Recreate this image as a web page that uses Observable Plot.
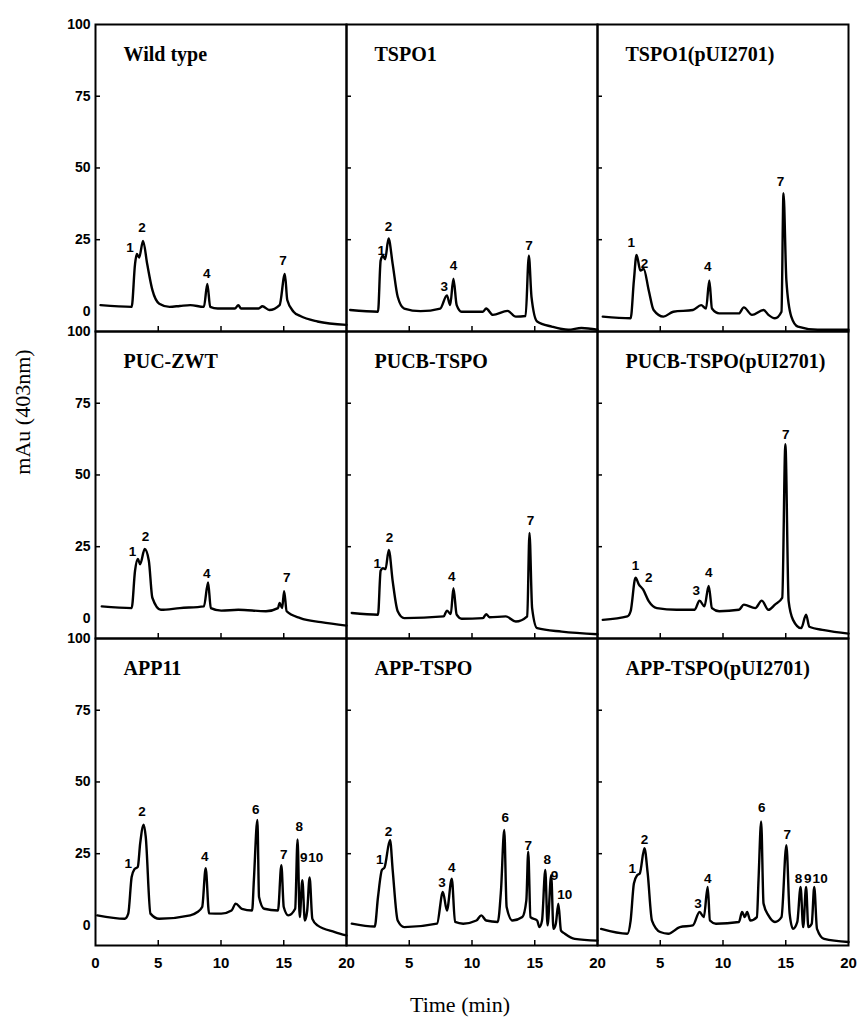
<!DOCTYPE html>
<html>
<head>
<meta charset="utf-8">
<script src="https://cdn.jsdelivr.net/npm/d3@7"></script>
<script src="https://cdn.jsdelivr.net/npm/@observablehq/plot@0.6"></script>
<style>
  html, body { margin: 0; padding: 0; background: #fff; }
</style>
</head>
<body>
<div id="chart"></div>
<script>
// ---- panel titles (row by row, left to right) ----
const panelNames = ["Wild type", "TSPO1", "TSPO1(pUI2701)",
                    "PUC-ZWT", "PUCB-TSPO", "PUCB-TSPO(pUI2701)",
                    "APP11", "APP-TSPO", "APP-TSPO(pUI2701)"];

// ---- chromatogram traces: [time (min), mAu] ----
const wildType = [[0.4,2.2],[2.88,1.6],[3.15,16.5],[3.29,20.0],[3.48,18.8],[3.79,24.6],[4.12,16.5],[4.53,7.5],[5.08,2.7],[5.9,1.6],[6.72,1.9],[7.55,2.2],[8.64,1.6],[8.91,9.6],[9.14,1.6],[9.74,1.0],[11.1,1.0],[11.38,2.2],[11.6,1.0],[13.0,1.0],[13.3,1.8],[13.85,0.5],[14.67,2.2],[15.09,13.1],[15.28,4.0],[15.78,-0.1],[16.32,-1.6],[17.69,-3.5],[20,-4.7]];
const tspo1 = [[0.29,0.5],[2.51,-0.1],[2.72,17.7],[2.9,19.4],[3.08,18.2],[3.35,25.4],[3.68,16.5],[4.08,5.1],[4.6,1.0],[5.9,0.1],[7.47,1.0],[8.0,5.6],[8.26,2.2],[8.52,11.4],[8.78,2.2],[9.17,-0.1],[10.87,-0.1],[11.13,1.0],[11.66,-1.2],[12.83,0.2],[13.49,-1.8],[14.27,-1.6],[14.53,19.4],[14.74,5.1],[15.19,-3.5],[16.36,-5.3],[17.67,-6.4],[18.72,-5.8],[20,-6.4]];
const tspo1p = [[0.42,-1.8],[2.64,-2.4],[2.9,10.8],[3.11,19.7],[3.42,14.2],[3.68,14.8],[4.08,7.4],[4.47,0.5],[5.25,-1.8],[6.04,-0.1],[7.6,0.5],[8.26,2.2],[8.65,1.0],[8.91,10.8],[9.12,1.0],[9.7,-0.7],[11.27,-0.7],[11.66,1.4],[12.31,-1.2],[13.23,0.5],[13.62,-1.2],[14.14,-2.4],[14.66,-0.1],[14.82,41.2],[15.05,10.8],[15.44,-1.8],[15.97,-5.3],[17.54,-6.4],[20,-6.4]];
const pucZwt = [[0.5,4.2],[2.88,3.6],[3.15,16.6],[3.37,20.7],[3.56,18.9],[3.92,24.2],[4.25,20.1],[4.53,7.2],[5.21,3.0],[6.72,3.6],[8.64,4.2],[8.97,12.5],[9.19,3.6],[10.02,2.7],[11.38,3.0],[13.58,2.5],[14.54,3.6],[14.67,5.4],[14.87,3.6],[15.03,9.5],[15.23,2.5],[16.32,0.1],[17.97,-1.3],[20,-2.5]];
const pucbTspo = [[0.42,1.9],[2.51,1.3],[2.72,16.6],[2.9,17.5],[3.11,17.2],[3.37,23.9],[3.68,13.0],[4.08,2.5],[4.6,0.1],[7.74,0.7],[8.0,2.7],[8.31,1.5],[8.52,10.5],[8.78,1.3],[9.17,-0.1],[10.87,0.1],[11.13,1.5],[11.39,0.4],[12.7,0.7],[13.49,-1.1],[14.4,0.7],[14.58,29.8],[14.79,3.6],[15.19,-3.4],[17.15,-4.6],[20,-5.5]];
const pucbTspoP = [[0.42,-0.5],[2.38,0.7],[2.64,2.5],[3.03,14.2],[3.29,11.9],[3.63,10.1],[4.08,6.0],[4.73,3.6],[6.3,3.0],[7.74,3.0],[8.13,6.2],[8.52,4.2],[8.86,11.3],[9.12,3.6],[9.7,2.5],[11.27,3.0],[11.66,4.8],[12.57,3.6],[13.09,6.2],[13.62,3.0],[14.14,4.8],[14.72,7.2],[14.97,60.7],[15.23,6.0],[15.58,-0.5],[16.23,-3.4],[16.62,1.3],[16.88,-2.9],[18.06,-4.1],[20,-5.3]];
const app11 = [[0.14,3.5],[2.33,2.3],[2.61,4.1],[2.88,16.9],[3.09,19.5],[3.37,20.4],[3.56,28.6],[3.84,35.1],[4.0,31.0],[4.38,4.1],[5.08,2.3],[7.55,3.5],[8.09,4.6],[8.5,6.4],[8.78,19.9],[9.05,4.2],[10.02,4.1],[10.84,5.2],[11.17,7.6],[11.66,5.8],[12.48,5.2],[12.62,15.8],[12.9,36.8],[13.03,9.9],[13.44,5.8],[14.54,5.2],[14.81,21.0],[15.0,6.4],[15.36,3.5],[15.91,5.8],[16.1,30.0],[16.27,2.9],[16.48,15.8],[16.68,1.7],[16.87,5.2],[17.06,16.7],[17.28,2.3],[17.69,0],[19.07,-2.3],[20,-3.5]];
const appTspo = [[0.42,0.6],[2.25,-0.4],[2.51,9.9],[2.82,19.3],[3.03,20.2],[3.47,29.8],[3.68,19.3],[4.08,1.7],[4.6,-0.6],[7.21,0.6],[7.68,11.7],[8.0,5.2],[8.39,16.3],[8.65,1.2],[9.3,0.6],[10.35,1.7],[10.74,3.5],[11.13,1.7],[12.05,1.2],[12.31,12.2],[12.57,33.3],[12.76,6.4],[13.23,1.7],[14.01,2.9],[14.33,8.7],[14.48,25.7],[14.66,2.9],[15.19,1.7],[15.37,-0.6],[15.58,1.7],[15.84,19.3],[16.02,0],[16.31,17.5],[16.49,-1.2],[16.68,0.6],[16.88,7.6],[17.09,-1.8],[17.4,-2.9],[18.19,-4.7],[20,-5.3]];
const appTspoP = [[0.29,-1.2],[2.38,-2.9],[2.64,1.7],[2.9,14.6],[3.16,17.5],[3.37,18.1],[3.74,26.9],[4.0,18.1],[4.34,1.7],[5.0,-2.3],[5.64,-2.9],[6.56,-0.6],[7.6,0],[8.13,4.7],[8.47,2.9],[8.78,13.4],[8.96,1.7],[9.43,0.6],[11.27,1.2],[11.52,4.7],[11.74,2.9],[11.92,4.7],[12.18,1.7],[12.7,2.9],[12.83,15.8],[13.04,36.2],[13.23,7.6],[13.62,3.5],[14.14,1.2],[14.66,2.9],[15.05,28.0],[15.31,4.1],[15.58,-1.2],[15.92,1.2],[16.18,13.4],[16.39,-0.6],[16.62,13.4],[16.8,-0.6],[17.07,0.6],[17.27,13.4],[17.49,-1.2],[18.06,-4.7],[20,-5.8]];

// ---- peak labels: [label, time, mAu] ----
const wildTypePeaks = [["1",2.74,22.3],["2",3.7,29.1],["4",8.86,13.1],["7",14.95,17.7]];
const tspo1Peaks = [["1",2.77,21.1],["2",3.35,29.7],["3",7.79,8.5],["4",8.52,16.0],["7",14.55,22.8]];
const tspo1pPeaks = [["1",2.69,24.0],["2",3.74,16.5],["4",8.78,15.6],["7",14.58,45.2]];
const pucZwtPeaks = [["1",2.94,23.4],["2",3.98,28.6],["4",8.86,15.6],["7",15.23,14.2]];
const pucbTspoPeaks = [["1",2.46,19.2],["2",3.43,28.3],["4",8.39,14.5],["7",14.66,34.2]];
const pucbTspoPPeaks = [["1",3.03,18.4],["2",4.08,14.2],["3",7.86,9.7],["4",8.86,16.0],["7",15.0,64.0]];
const app11Peaks = [["1",2.61,21.6],["2",3.7,39.7],["4",8.7,23.9],["6",12.76,40.3],["7",15.0,24.6],["8",16.24,34.5],["9",16.6,23.7],["10",17.55,23.7]];
const appTspoPeaks = [["1",2.64,22.9],["2",3.35,32.7],["3",7.6,14.8],["4",8.39,20.1],["6",12.65,37.4],["7",14.48,27.7],["8",15.99,22.8],["9",16.57,17.5],["10",17.4,10.8]];
const appTspoPPeaks = [["1",2.77,19.9],["2",3.74,30.0],["3",8.0,7.6],["4",8.78,16.3],["6",13.09,40.9],["7",15.11,31.6],["8",16.02,16.3],["9",16.75,16.3],["10",17.74,16.3]];

// ---- axes ----
const yTicks = [0, 25, 50, 75, 100];
const yInnerTicks = [25, 50, 75];
const xTicks = [5, 10, 15, 20];
const xFirstTick = [0];
const xInnerTicks = [5, 10, 15];
const xTitle = "Time (min)";
const yTitle = "mAu (403nm)";

// ---- build tables ----
const traces = [wildType, tspo1, tspo1p, pucZwt, pucbTspo, pucbTspoP, app11, appTspo, appTspoP];
const peaks = [wildTypePeaks, tspo1Peaks, tspo1pPeaks, pucZwtPeaks, pucbTspoPeaks, pucbTspoPPeaks, app11Peaks, appTspoPeaks, appTspoPPeaks];

const lineData = traces.flatMap((tr, i) =>
  tr.map(([t, v]) => ({panel: panelNames[i], col: i % 3, row: Math.floor(i / 3), t, v})));
const peakData = peaks.flatMap((pk, i) =>
  pk.map(([label, t, v]) => ({panel: panelNames[i], col: i % 3, row: Math.floor(i / 3), label, t, v})));
const titleData = panelNames.map((name, i) => ({name, col: i % 3, row: Math.floor(i / 3)}));

const sans = "'Liberation Sans', Arial, Helvetica, sans-serif";
const serif = "'Liberation Serif', 'Times New Roman', Times, serif";

const chart = Plot.plot({
  width: 858,
  height: 1020,
  marginTop: 24,
  marginBottom: 75,
  marginLeft: 95,
  marginRight: 10,
  style: {fontFamily: sans, background: "white", color: "black"},
  x: {domain: [0, 20], axis: null},
  y: {domain: [-7, 100], axis: null},
  fx: {domain: [0, 1, 2], padding: 0, axis: null},
  fy: {domain: [0, 1, 2], padding: 0, axis: null},
  marks: [
    Plot.line(lineData, {x: "t", y: "v", fx: "col", fy: "row", z: "panel", curve: "monotone-x",
      stroke: "black", strokeWidth: 2.4, strokeLinejoin: "round", strokeLinecap: "round"}),
    Plot.text(peakData, {x: "t", y: "v", fx: "col", fy: "row", text: "label",
      fontWeight: "bold", fontSize: 13.5, fontFamily: sans, fill: "black"}),
    Plot.text(titleData, {text: "name", fx: "col", fy: "row", frameAnchor: "top-left",
      lineAnchor: "top", textAnchor: "start", dx: 28, dy: 22,
      fontFamily: serif, fontWeight: "bold", fontSize: 20, fill: "black"}),
    Plot.axisY(yInnerTicks, {anchor: "left", tickSize: 5, dx: 5, facetAnchor: null,
      strokeWidth: 1.5, tickFormat: () => "", label: null}),
    Plot.axisX(xInnerTicks, {anchor: "bottom", tickSize: 5, dy: -5, facetAnchor: null,
      strokeWidth: 1.5, tickFormat: () => "", label: null}),
    Plot.axisY(yTicks, {anchor: "left", tickSize: 0, tickPadding: 5, label: null,
      fontWeight: "bold", fontSize: 14, fontFamily: sans}),
    Plot.axisX(xTicks, {anchor: "bottom", tickSize: 0, tickPadding: 12, label: null,
      fontWeight: "bold", fontSize: 15, fontFamily: sans}),
    Plot.text(xFirstTick, {x: d => d, fx: () => 0, fy: () => 2, text: d => String(d),
      frameAnchor: "bottom", lineAnchor: "top", dy: 12,
      fontWeight: "bold", fontSize: 15, fontFamily: sans, fill: "black"}),
    Plot.frame({stroke: "black", strokeWidth: 2})
  ]
});

const svg = d3.select(chart);
svg.append("text")
  .attr("transform", "translate(25,412) rotate(-90)")
  .attr("text-anchor", "middle")
  .attr("dominant-baseline", "middle")
  .style("font-family", serif)
  .style("font-size", "22px")
  .style("fill", "black")
  .text(yTitle);
svg.append("text")
  .attr("x", 460)
  .attr("y", 1012)
  .attr("text-anchor", "middle")
  .style("font-family", serif)
  .style("font-size", "22px")
  .style("fill", "black")
  .text(xTitle);

document.getElementById("chart").appendChild(chart);
</script>
</body>
</html>
